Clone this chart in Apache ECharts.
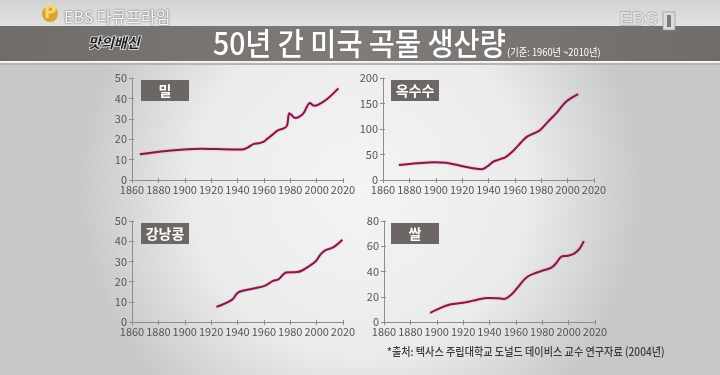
<!DOCTYPE html>
<html><head><meta charset="utf-8">
<script src="https://cdn.jsdelivr.net/npm/echarts@6/dist/echarts.min.js"></script>
<style>html,body{margin:0;padding:0;background:#e9e9e9;overflow:hidden}#c{width:720px;height:375px}</style>
</head><body><div id="c"></div>
<script>
// ---- data ----
const xTickLabels = ['1860','1880','1900','1920','1940','1960','1980','2000','2020'];
const panelTitles = ['밀','옥수수','강낭콩','쌀'];
const wheatTicks = ['0','10','20','30','40','50'];
const cornTicks = ['0','50','100','150','200'];
const beanTicks = ['0','10','20','30','40','50'];
const riceTicks = ['0','20','40','60','80'];

const wheatYears  = [1866,1886,1912,1937,1944,1948,1952,1956,1960,1963,1967,1971,1975,1977.5,1979.3,1981,1983.6,1986,1990,1995,1998,2001,2008,2016.5];
const wheatValues = [12.6,14.2,15.3,15.0,15.0,16.0,17.6,18.0,18.8,20.4,22.5,24.5,25.3,26.6,32.7,31.9,30.4,30.7,32.7,37.7,36.4,36.8,39.7,44.9];

const cornYears  = [1872,1886,1899,1908,1918,1928,1935,1939,1944,1949,1953,1959,1965,1969,1974,1979,1985,1992,1999,2008];
const cornValues = [29.5,33,35,33.7,28.4,23.1,21.0,26.4,36.3,40.9,44.9,58,74.6,84.5,91,97.7,114,132.7,153.8,168.3];

const beanYears  = [1924,1936,1940,1944,1954,1961,1967,1971,1977,1985,1989,1994,1999.5,2003,2006.5,2012.5,2019.5];
const beanValues = [7.5,11.1,14.4,15.5,16.8,18.0,20.4,21.1,24.5,24.7,25.5,27.5,30.2,33.5,35.5,36.9,40.7];

const riceYears  = [1895,1903,1910,1920,1928,1938,1946,1951,1956,1961,1968,1976,1981,1987,1990.5,1994.5,1999.5,2004.5,2008.5,2011.5];
const riceValues = [7.3,11.2,13.9,15.2,17.0,19.1,18.8,18.3,21.2,26.9,35.3,39.2,41.0,43.1,46.5,51.8,52.5,54.4,58.3,64.0];

// ---- layout ----
const panels = [
  {years: wheatYears, values: wheatValues, ticks: wheatTicks, max: 50, step: 10},
  {years: cornYears,  values: cornValues,  ticks: cornTicks,  max: 200, step: 50},
  {years: beanYears,  values: beanValues,  ticks: beanTicks,  max: 50, step: 10},
  {years: riceYears,  values: riceValues,  ticks: riceTicks,  max: 80, step: 20}
];
const grids = [
  {left:132, top:78,  width:211, height:102},
  {left:383, top:78,  width:211, height:102},
  {left:132, top:221, width:211, height:101},
  {left:384, top:221, width:211, height:101}
];
const boxes = [[141,80],[391,80],[141,223],[391,223]];

const axisColor = '#8d8d8d';
const labelColor = '#555555';
const labelFont = '"Noto Sans CJK KR"';
const xAxes = [], yAxes = [], series = [];
panels.forEach((p, i) => {
  [false, true].forEach(inside => {
    xAxes.push({
      type:'value', gridIndex:i, min:1860, max:2020, interval:20, position:'bottom',
      axisLine:{show:!inside, onZero:false, lineStyle:{color:axisColor, width:1}},
      axisTick:{show:true, inside:inside, length: inside?2:3, lineStyle:{color:axisColor}},
      axisLabel:{show:!inside, margin:4, color:labelColor, fontSize:11, fontFamily:labelFont,
        formatter:(v, idx) => xTickLabels[idx]},
      splitLine:{show:false}
    });
    yAxes.push({
      type:'value', gridIndex:i, min:0, max:p.max, interval:p.step, position:'left',
      axisLine:{show:!inside, onZero:false, lineStyle:{color:axisColor, width:1}},
      axisTick:{show:true, inside:inside, length: inside?2:3, lineStyle:{color:axisColor}},
      axisLabel:{show:!inside, margin:5, color:labelColor, fontSize:11, fontFamily:labelFont,
        formatter:(v, idx) => p.ticks[idx]},
      splitLine:{show:false}
    });
  });
  series.push({
    type:'line', xAxisIndex:2*i, yAxisIndex:2*i, smooth:0.35, showSymbol:false, silent:true,
    data: p.years.map((y, k) => [y, p.values[k]]),
    lineStyle:{color:'#841848', width:2, shadowColor:'rgba(235,80,160,0.55)', shadowBlur:2}
  });
});

const graphics = [
  {type:'rect', z:-20, shape:{x:0,y:0,width:720,height:375}, silent:true,
   style:{fill:{type:'radial', x:0.5, y:0.5, r:0.75, colorStops:[{offset:0,color:'#f4f4f4'},{offset:0.6,color:'#ebebeb'},{offset:1,color:'#c8c8c8'}]}}},
  {type:'rect', z:-19, shape:{x:0,y:0,width:720,height:26}, silent:true,
   style:{fill:{type:'linear', x:0, y:0, x2:0, y2:1, colorStops:[{offset:0,color:'#d2d2d2'},{offset:1,color:'#e2e2e2'}]}}},
  {type:'rect', z:-18, shape:{x:0,y:26,width:720,height:35}, silent:true,
   style:{fill:{type:'linear', x:0, y:0, x2:1, y2:0, colorStops:[{offset:0,color:'#6f6c6a'},{offset:0.5,color:'#7e7b79'},{offset:1,color:'#6f6c6a'}]}}},
  {type:'rect', z:-18, shape:{x:0,y:61,width:720,height:2}, silent:true, style:{fill:'#f3f3f3'}},
  {type:'rect', z:-18, shape:{x:0,y:63,width:720,height:2}, silent:true, style:{fill:'#b4b4b4'}},
  // logos
  {type:'circle', z:5, shape:{cx:50, cy:14, r:8}, style:{fill:'#d9a52a'}},
  {type:'text', z:6, x:44, y:5, style:{text:'P', font:'bold 17px "DejaVu Sans"', fill:'#f7d878'}},
  {type:'text', z:6, x:64, y:17, style:{text:'EBS 다큐프라임', font:'16px "Noto Sans CJK KR"', fill:'#f6f6f6', verticalAlign:'middle',
    textShadowColor:'rgba(40,40,40,0.9)', textShadowBlur:2}},
  {type:'text', z:6, x:88, y:36, style:{text:'맛의배신', font:'italic bold 14px "Noto Sans CJK KR"', fill:'#1e1e1e', stroke:'#eeeeee', lineWidth:1.5}},
  {type:'text', z:6, x:619, y:10, style:{text:'EBS', font:'bold 19px "Liberation Sans"', fill:'#dcdcdc', stroke:'#9a9a9a', lineWidth:0.8}},
  {type:'rect', z:6, shape:{x:663,y:12,width:12,height:18}, style:{fill:'#dcdcdc', stroke:'#9a9a9a', lineWidth:0.8}},
  {type:'rect', z:7, shape:{x:667,y:15,width:4,height:12}, style:{fill:'#7a7a7a'}},
  // title
  {type:'text', z:6, x:213, y:43, scaleX:0.915, originX:0, originY:0,
   style:{text:'50년 간 미국 곡물 생산량', font:'500 31px "Noto Sans CJK KR"', fill:'#ffffff', verticalAlign:'middle'}},
  {type:'text', z:6, x:507, y:52, scaleX:0.93, originX:0, originY:0,
   style:{text:'(기준: 1960년 ~2010년)', font:'10px "Noto Sans CJK KR"', fill:'#ffffff', verticalAlign:'middle'}},
  // footnote
  {type:'text', z:6, x:387, y:352, scaleX:0.88, originX:0, originY:0,
   style:{text:'*출처: 텍사스 주립대학교 도널드 데이비스 교수 연구자료 (2004년)', font:'500 11.5px "Noto Sans CJK KR"', fill:'#3a3a3a', verticalAlign:'middle'}}
];
boxes.forEach((b, i) => {
  graphics.push({type:'rect', z:10, shape:{x:b[0], y:b[1], width:48, height:21}, style:{fill:'#6c6764'}});
  graphics.push({type:'text', z:11, x:b[0]+24, y:b[1]+10.5,
    style:{text:panelTitles[i], font:'bold 14px "Noto Sans CJK KR"', fill:'#ffffff', align:'center', verticalAlign:'middle'}});
});

const chart = echarts.init(document.getElementById('c'), null, {renderer:'canvas'});
chart.setOption({
  animation:false,
  grid: grids,
  xAxis: xAxes,
  yAxis: yAxes,
  series: series,
  graphic: graphics
});
</script></body></html>
